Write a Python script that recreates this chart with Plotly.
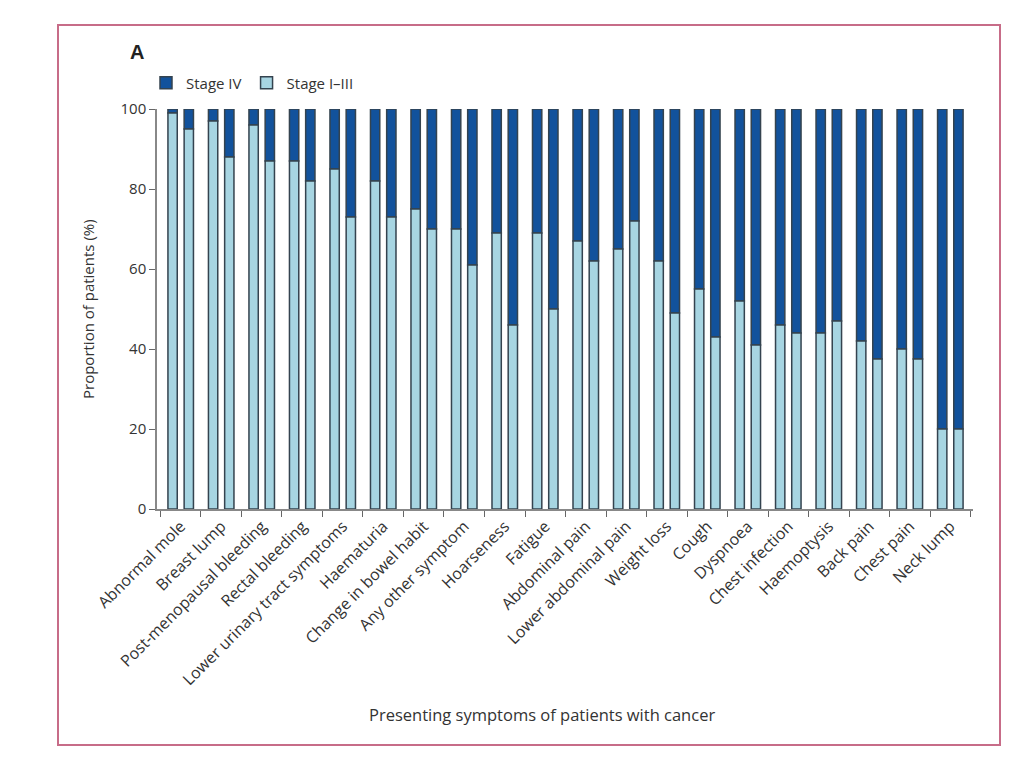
import plotly.graph_objects as go

symptoms = ["Abnormal mole", "Breast lump", "Post-menopausal bleeding", "Rectal bleeding",
            "Lower urinary tract symptoms", "Haematuria", "Change in bowel habit",
            "Any other symptom", "Hoarseness", "Fatigue", "Abdominal pain",
            "Lower abdominal pain", "Weight loss", "Cough", "Dyspnoea", "Chest infection",
            "Haemoptysis", "Back pain", "Chest pain", "Neck lump"]
# Stage I-III proportion (%) for the left and right bar of each pair
early_left = [99, 97, 96, 87, 85, 82, 75, 70, 69, 69, 67, 65, 62, 55, 52, 46, 44, 42, 40, 20]
early_right = [95, 88, 87, 82, 73, 73, 70, 61, 46, 50, 62, 72, 49, 43, 41, 44, 47, 37.5, 37.5, 20]
late_left = [100 - v for v in early_left]
late_right = [100 - v for v in early_right]

DARK = "#12529c"
LIGHT = "#a7d5e2"
EDGE = "#34434f"
FONT = "Open Sans"
TXT = "#333333"
W = 0.23

fig = go.Figure()
fig.add_bar(x=symptoms, y=late_left, base=early_left, offset=-0.2 - W / 2, width=W,
            marker=dict(color=DARK, line=dict(color=EDGE, width=1.5)),
            name="Stage IV", legendgroup="iv")
fig.add_bar(x=symptoms, y=late_right, base=early_right, offset=0.2 - W / 2, width=W,
            marker=dict(color=DARK, line=dict(color=EDGE, width=1.5)),
            name="Stage IV", legendgroup="iv", showlegend=False)
fig.add_bar(x=symptoms, y=early_left, offset=-0.2 - W / 2, width=W,
            marker=dict(color=LIGHT, line=dict(color=EDGE, width=1.5)),
            name="Stage I–III", legendgroup="e")
fig.add_bar(x=symptoms, y=early_right, offset=0.2 - W / 2, width=W,
            marker=dict(color=LIGHT, line=dict(color=EDGE, width=1.5)),
            name="Stage I–III", legendgroup="e", showlegend=False)

OFF = 8  # page body margin
FW, FH = 1008, 750
L, R, T, B = 157 - OFF, 973 - OFF, 109 - OFF, 509 - OFF
def px(x):
    return (x - OFF - L) / (R - L)
def py(y):
    return (B - (y - OFF)) / (B - T)

fig.update_layout(
    width=FW, height=FH,
    margin=dict(l=L, r=FW - R, t=T, b=FH - B),
    barmode="overlay",
    paper_bgcolor="white", plot_bgcolor="white",
    font=dict(family=FONT, size=15, color=TXT),
    showlegend=True,
    legend=dict(orientation="h", x=px(146), xanchor="left", y=py(83), yanchor="middle",
                font=dict(size=15, color=TXT), itemwidth=30, tracegroupgap=0,
                bgcolor="rgba(0,0,0,0)"),
    xaxis=dict(type="category", range=[-0.585, 19.56], tickson="boundaries",
               ticks="outside", ticklen=6, tickcolor="#666", tickwidth=1.2,
               showline=True, linecolor="#888", linewidth=1.5,
               tickangle=-45, tickfont=dict(size=16, color=TXT), showgrid=False),
    yaxis=dict(range=[0, 100], tickvals=[0, 20, 40, 60, 80, 100], ticks="outside",
               ticklen=6, tickcolor="#666", tickwidth=1.2, showline=True,
               linecolor="#888", linewidth=1.5, showgrid=False, zeroline=False,
               tickfont=dict(size=15, color=TXT)),
    shapes=[dict(type="rect", xref="paper", yref="paper",
                 x0=px(58), x1=px(1000), y0=py(745), y1=py(25),
                 line=dict(color="#c76c88", width=2), layer="below")],
    annotations=[
        dict(text="<b>A</b>", x=px(137), y=py(52), xref="paper", yref="paper",
             xanchor="center", yanchor="middle",
             showarrow=False, font=dict(family="Liberation Sans", size=20, color="#222")),
        dict(text="Proportion of patients (%)", x=px(88), y=py(309), xref="paper",
             yref="paper", xanchor="center", yanchor="middle",
             showarrow=False, textangle=-90, font=dict(size=15, color=TXT)),
        dict(text="Presenting symptoms of patients with cancer", x=px(542), y=py(714),
             xref="paper", yref="paper", xanchor="center", yanchor="middle",
             showarrow=False, font=dict(size=16.5, color=TXT)),
    ],
)

fig.write_html("out.html")
